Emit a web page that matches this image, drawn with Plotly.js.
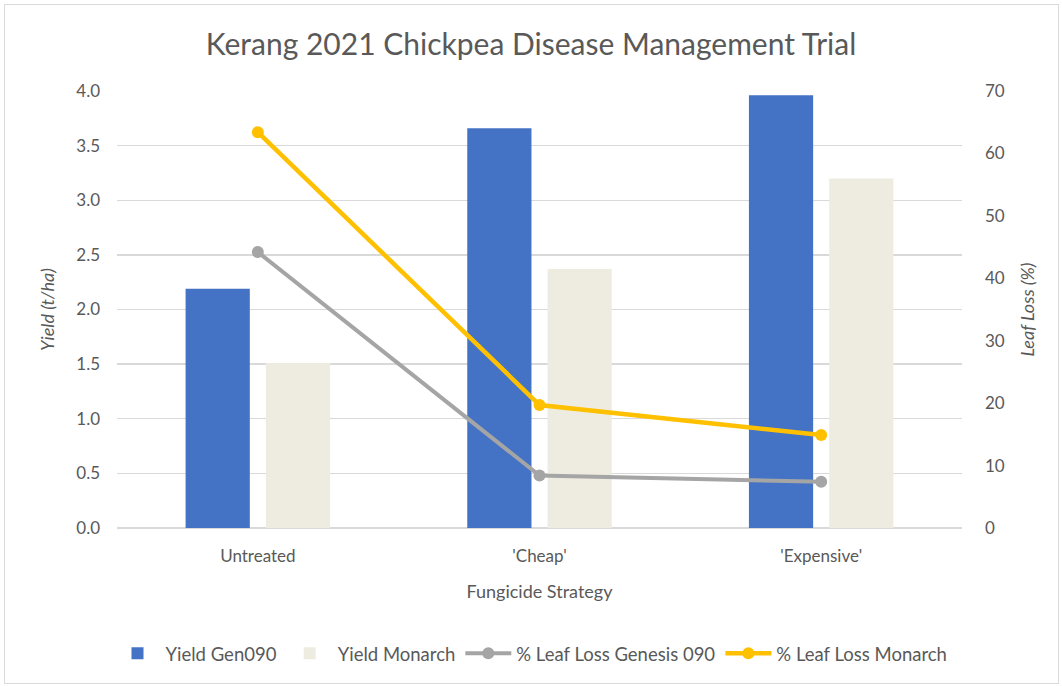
<!DOCTYPE html>
<html>
<head>
<meta charset="utf-8">
<script src="https://cdn.plot.ly/plotly-3.0.1.min.js"></script>
<style>
html,body{margin:0;padding:0;background:#fff;}
#wrap{position:relative;width:1062px;height:686px;}
#chart{position:absolute;left:0;top:0;width:1062px;height:686px;}
#frame{position:absolute;left:4px;top:4px;width:1053px;height:678px;border:1px solid #D9D9D9;pointer-events:none;}
</style>
</head>
<body>
<div id="wrap"><div id="chart"></div><div id="frame"></div></div>
<script>
const categories = ["Untreated", "'Cheap'", "'Expensive'"];
const yieldGen090 = [2.19, 3.66, 3.96];
const yieldMonarch = [1.51, 2.37, 3.20];
const leafLossGenesis090 = [44.2, 8.4, 7.4];
const leafLossMonarch = [63.4, 19.7, 14.9];
const leftTicks = [0, 0.5, 1, 1.5, 2, 2.5, 3, 3.5, 4];
const leftTickText = ["0.0","0.5","1.0","1.5","2.0","2.5","3.0","3.5","4.0"];
const rightTicks = [0,10,20,30,40,50,60,70];

const FONT = "Lato, 'Open Sans', sans-serif";
const TXT = "#595959";

const traces = [
  {type:'bar', name:'Yield Gen090', x:categories, y:yieldGen090, marker:{color:'#4472C4'}},
  {type:'bar', name:'Yield Monarch', x:categories, y:yieldMonarch, marker:{color:'#EEECE1'}},
  {type:'scatter', mode:'lines+markers', name:'% Leaf Loss Genesis 090', x:categories, y:leafLossGenesis090, yaxis:'y2',
   line:{color:'#A5A5A5', width:4}, marker:{color:'#A5A5A5', size:12}},
  {type:'scatter', mode:'lines+markers', name:'% Leaf Loss Monarch', x:categories, y:leafLossMonarch, yaxis:'y2',
   line:{color:'#FFC000', width:4.5}, marker:{color:'#FFC000', size:12}}
];

const layout = {
  width:1062, height:686,
  margin:{l:117, r:100, t:91, b:158, autoexpand:false},
  paper_bgcolor:'#fff', plot_bgcolor:'#fff',
  font:{family:FONT, color:TXT, size:17},
  title:{text:'Kerang 2021 Chickpea Disease Management Trial', font:{family:FONT, size:30, color:TXT}, x:0.5, xanchor:'center', y:0.935, yanchor:'middle'},
  barmode:'group', bargap:0.43, bargroupgap:0.2,
  xaxis:{type:'category', showgrid:false, zeroline:false, showline:false, ticks:'', ticklabelstandoff:16,
    tickfont:{family:FONT, size:17, color:TXT},
    title:{text:'Fungicide Strategy', font:{family:FONT, size:18, color:TXT}, standoff:20}},
  yaxis:{range:[0,4], tickvals:leftTicks, ticktext:leftTickText, showgrid:true, gridcolor:'#D9D9D9', gridwidth:1.3,
    zeroline:true, zerolinecolor:'#D9D9D9', zerolinewidth:1.3, showline:false, ticks:'', ticklabelstandoff:16,
    tickfont:{family:FONT, size:17, color:TXT},
    title:{text:'<i>Yield (t/ha)</i>', font:{family:FONT, size:18, color:TXT}, standoff:16}},
  yaxis2:{range:[0,70], tickvals:rightTicks, overlaying:'y', side:'right', showgrid:false, zeroline:false, showline:false, ticks:'', ticklabelstandoff:22,
    tickfont:{family:FONT, size:17, color:TXT},
    title:{text:'<i>Leaf Loss (%)</i>', font:{family:FONT, size:18, color:TXT}, standoff:17}},
  legend:{orientation:'h', xref:'container', yref:'container', x:0.5, xanchor:'center', y:0.047, yanchor:'middle',
    font:{family:FONT, size:18.5, color:TXT}, itemwidth:46, tracegroupgap:0},
  showlegend:true
};

Plotly.newPlot('chart', traces, layout, {displayModeBar:false, staticPlot:true});
</script>
</body>
</html>
